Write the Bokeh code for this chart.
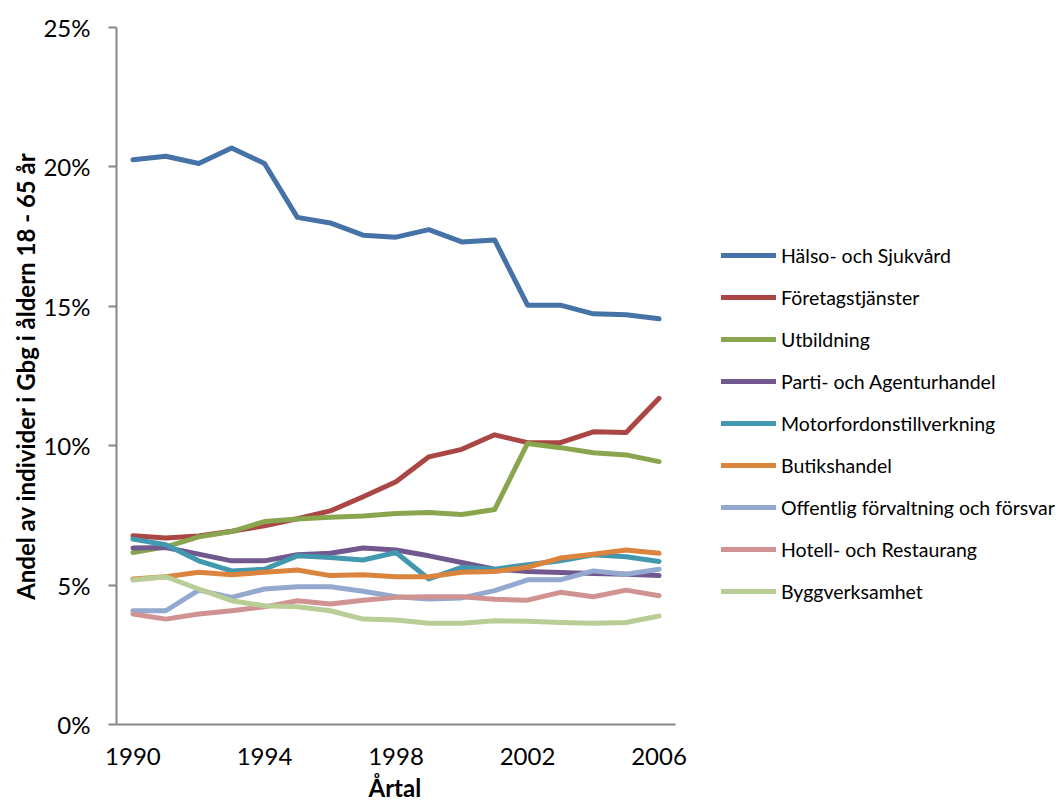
from bokeh.plotting import figure
from bokeh.models import Range1d, FixedTicker, PrintfTickFormatter, Legend, LegendItem, Title
from bokeh.embed import file_html
from bokeh.resources import INLINE

years = list(range(1990, 2007))
series_names = [
    "Hälso- och Sjukvård", "Företagstjänster", "Utbildning",
    "Parti- och Agenturhandel", "Motorfordonstillverkning", "Butikshandel",
    "Offentlig förvaltning och försvar", "Hotell- och Restaurang", "Byggverksamhet",
]
halso = [20.26, 20.38, 20.12, 20.68, 20.12, 18.19, 17.99, 17.55, 17.48, 17.75, 17.31, 17.38, 15.04, 15.04, 14.73, 14.70, 14.55]
foretag = [6.77, 6.69, 6.76, 6.93, 7.13, 7.38, 7.66, 8.17, 8.71, 9.60, 9.87, 10.39, 10.11, 10.11, 10.50, 10.47, 11.70]
utbild = [6.17, 6.37, 6.73, 6.92, 7.28, 7.37, 7.43, 7.48, 7.57, 7.60, 7.53, 7.71, 10.08, 9.93, 9.75, 9.67, 9.43]
parti = [6.33, 6.35, 6.11, 5.87, 5.87, 6.09, 6.14, 6.33, 6.26, 6.05, 5.81, 5.57, 5.49, 5.45, 5.42, 5.39, 5.34]
motor = [6.65, 6.45, 5.87, 5.51, 5.57, 6.05, 5.99, 5.90, 6.17, 5.22, 5.64, 5.57, 5.73, 5.87, 6.09, 6.02, 5.85]
butik = [5.22, 5.30, 5.46, 5.37, 5.46, 5.54, 5.34, 5.37, 5.30, 5.30, 5.46, 5.49, 5.64, 5.97, 6.11, 6.26, 6.14]
offentlig = [4.08, 4.08, 4.82, 4.56, 4.86, 4.94, 4.94, 4.78, 4.58, 4.50, 4.54, 4.80, 5.19, 5.19, 5.51, 5.39, 5.57]
hotell = [3.96, 3.78, 3.96, 4.08, 4.22, 4.44, 4.32, 4.46, 4.56, 4.58, 4.58, 4.49, 4.46, 4.74, 4.58, 4.82, 4.62]
bygg = [5.18, 5.30, 4.86, 4.44, 4.26, 4.22, 4.08, 3.78, 3.75, 3.63, 3.63, 3.72, 3.70, 3.66, 3.63, 3.66, 3.89]
all_series = [halso, foretag, utbild, parti, motor, butik, offentlig, hotell, bygg]
colors = ["#4572A7", "#AA4643", "#89A54E", "#71588F", "#4198AF", "#DB843D", "#93A9CF", "#D19392", "#B9CD96"]
x_ticks = [1990, 1994, 1998, 2002, 2006]
y_ticks = [0, 5, 10, 15, 20, 25]

FONT = "Lato"
AXIS_COL = "#868686"

# layout (pixels)
FIG_W, FIG_H = 1057, 807
LEFT, TOP, BOTTOM = 116, 27, 83
AXIS_PX = 559                      # visible length of the category axis
X0, X1 = 1989.5, 2006.5            # category axis extent
frame_px = FIG_W - LEFT
x_end = X0 + frame_px * (X1 - X0) / AXIS_PX   # frame continues (invisibly) under the legend

p = figure(width=FIG_W, height=FIG_H, x_range=Range1d(X0, x_end), y_range=Range1d(0, 25),
           output_backend="svg", toolbar_location=None,
           min_border_left=LEFT, min_border_right=0, min_border_top=TOP, min_border_bottom=BOTTOM)
p.outline_line_color = None
p.xgrid.visible = False
p.ygrid.visible = False
p.background_fill_color = "white"
p.border_fill_color = "white"

items = []
for name, vals, col in zip(series_names, all_series, colors):
    r = p.line(years, vals, line_color=col, line_width=5, line_cap="round", line_join="round")
    items.append(LegendItem(label=name, renderers=[r]))

# axes
xa = p.xaxis[0]
xa.bounds = (X0, X1)
xa.ticker = FixedTicker(ticks=x_ticks)
xa.axis_line_color = AXIS_COL
xa.axis_line_width = 2
xa.major_tick_out = 0
xa.major_tick_in = 0
xa.minor_tick_out = 0
xa.minor_tick_in = 0
xa.major_label_text_font = FONT
xa.major_label_text_font_size = "24px"
xa.major_label_text_color = "black"
xa.major_label_standoff = 23

xtitle = Title(text="Årtal", align="left", offset=252, standoff=7,
               text_font=FONT, text_font_style="bold", text_font_size="24px", text_color="black")
p.add_layout(xtitle, "below")

ya = p.yaxis[0]
ya.ticker = FixedTicker(ticks=y_ticks)
ya.formatter = PrintfTickFormatter(format="%d%%")
ya.axis_line_color = AXIS_COL
ya.axis_line_width = 2
ya.major_tick_line_color = AXIS_COL
ya.major_tick_line_width = 2
ya.major_tick_out = 8
ya.major_tick_in = 0
ya.minor_tick_out = 0
ya.minor_tick_in = 0
ya.major_label_text_font = FONT
ya.major_label_text_font_size = "24px"
ya.major_label_text_color = "black"
ya.major_label_standoff = 18
ya.axis_label = "Andel av individer i Gbg i åldern 18 - 65 år"
ya.axis_label_text_font = FONT
ya.axis_label_text_font_style = "bold"
ya.axis_label_text_font_size = "24px"
ya.axis_label_text_color = "black"
ya.axis_label_standoff = 0

legend = Legend(items=items, location=(605, 121), orientation="vertical")
legend.padding = 0
legend.margin = 0
legend.border_line_color = None
legend.background_fill_alpha = 0
legend.glyph_width = 55
legend.glyph_height = 24
legend.label_height = 24
legend.spacing = 18
legend.label_standoff = 5
legend.label_text_font = FONT
legend.label_text_font_size = "19.5px"
legend.label_text_color = "black"
legend.label_text_baseline = "middle"
p.add_layout(legend, "center")

open("out.html", "w").write(file_html(p, INLINE))
